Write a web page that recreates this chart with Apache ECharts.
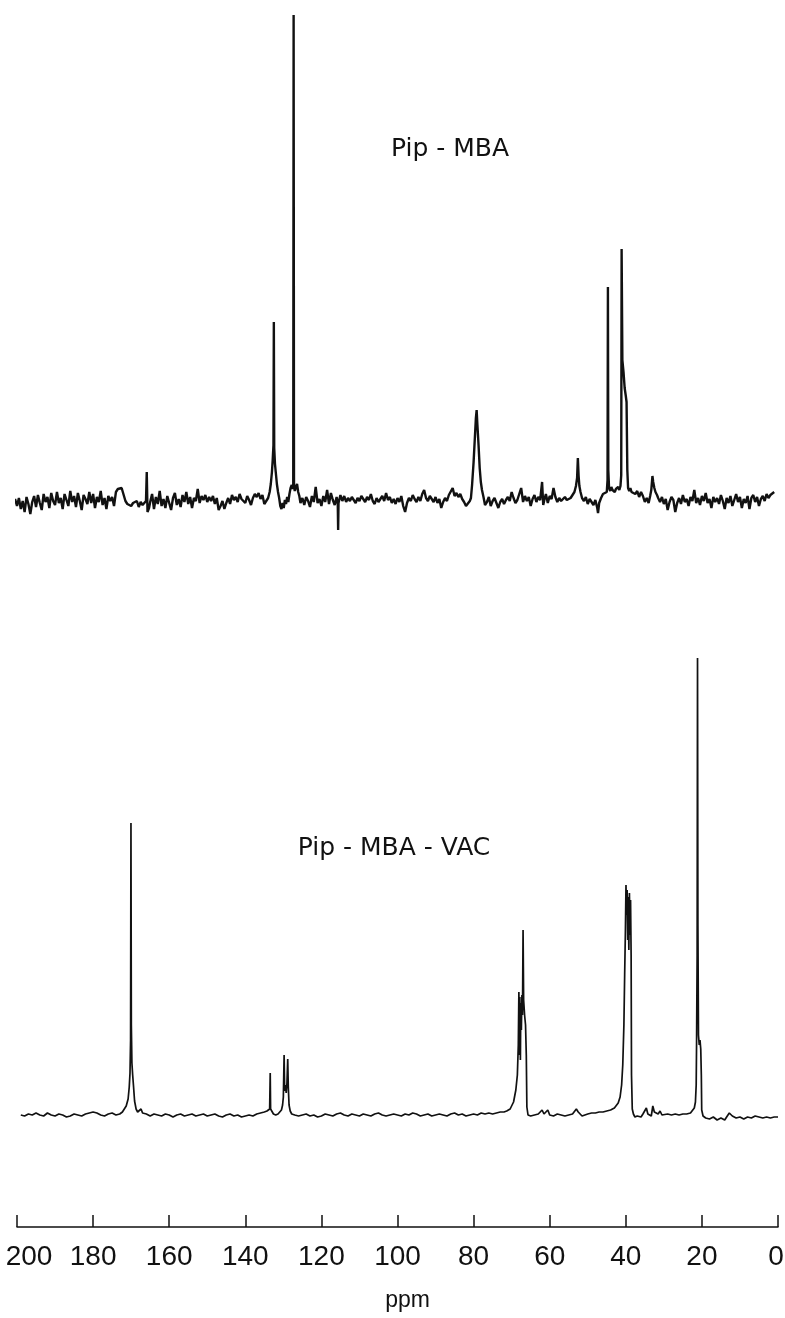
<!DOCTYPE html>
<html>
<head>
<meta charset="utf-8">
<script src="https://cdn.jsdelivr.net/npm/echarts@6/dist/echarts.min.js"></script>
<style>
html,body{margin:0;padding:0;background:#fff;}
#chart{width:785px;height:1318px;}
</style>
</head>
<body>
<div id="chart"></div>
<script>
// ---- Data (chemical shift in ppm, intensity in arbitrary units) ----
const axisTicks = [0, 20, 40, 60, 80, 100, 120, 140, 160, 180, 200];
const axisName = 'ppm';
const labelTop = 'Pip - MBA';
const labelBottom = 'Pip - MBA - VAC';

const topSpectrum = [
[201.0,-5],[200.5,1],
[200.0,-6],[199.5,2],[199.0,-9],[198.5,-1],[198.0,-12],[197.5,3],[197.0,-4],[196.5,-14],[196.0,-2],[195.5,4],
[195.0,-7],[194.5,5],[194.0,-3],[193.5,-10],[193.0,6],[192.5,-2],[192.0,3],[191.5,-8],[191.0,7],[190.5,-1],
[190.0,-5],[189.5,8],[189.0,-3],[188.5,2],[188.0,-9],[187.5,6],[187.0,0],[186.5,-6],[186.0,9],[185.5,-2],
[185.0,4],[184.5,-7],[184.0,7],[183.5,-1],[183.0,-10],[182.5,5],[182.0,1],[181.5,-4],[181.0,8],[180.5,-3],
[180.0,6],[179.5,-8],[179.0,3],[178.5,-2],[178.0,9],[177.5,-5],[177.0,2],[176.5,-9],[176.0,4],[175.5,-1],
[175.0,3],[174.5,-6],[174.0,8],[173.5,11],[173.0,9],[172.5,12],[172.0,10],[171.5,-1],[171.0,-4],[170.5,-2],
[170.0,-6],[169.5,-3],[169.0,-5],[168.5,-1],[168.0,-7],[167.5,-2],[167.0,-5],[166.5,-3],[166.1,-1],[165.9,28],
[165.7,-12],[165.3,-8],[165.0,-2],[164.5,6],[164.0,-9],[163.5,3],[163.0,-4],[162.5,9],[162.0,-6],[161.5,1],
[161.0,-8],[160.5,4],[160.0,-3],[159.5,-10],[159.0,2],[158.5,7],[158.0,-5],[157.5,1],[157.0,-7],[156.5,5],
[156.0,-2],[155.5,8],[155.0,-4],[154.5,3],[154.0,-8],[153.5,2],[153.0,-1],[152.5,11],[152.0,-3],[151.5,4],
[151.0,0],[150.5,5],[150.0,-2],[149.5,3],[149.0,-1],[148.5,4],[148.0,-4],[147.5,2],[147.0,-10],[146.5,-6],
[146.0,-1],[145.5,-9],[145.0,-3],[144.5,2],[144.0,-4],[143.5,5],[143.0,0],[142.5,3],[142.0,-2],[141.5,6],
[141.0,1],[140.5,3],[140.0,-3],[139.5,4],[139.0,0],[138.5,-5],[138.0,2],[137.5,6],[137.0,3],[136.5,7],
[136.0,1],[135.5,5],[135.0,-4],[134.5,-1],[134.0,2],[133.6,8],[133.3,16],[133.0,28],[132.8,40],[132.6,55],
[132.5,178],[132.4,52],[132.2,36],[132.0,28],[131.7,16],[131.4,8],[131.1,2],[130.8,-6],[130.5,-9],[130.2,-3],
[129.9,-8],[129.6,0],[129.3,-4],[129.0,3],[128.7,-2],[128.4,6],[128.1,12],[127.8,15],[127.6,11],[127.4,14],
[127.3,485],[127.2,15],[127.0,9],[126.7,13],[126.4,16],[126.1,8],[125.8,4],[125.5,-3],[125.0,2],[124.5,-5],
[124.0,3],[123.5,-1],[123.0,-7],[122.5,4],[122.0,-2],[121.5,13],[121.0,-3],[120.5,1],[120.0,-6],[119.5,4],
[119.0,-2],[118.5,10],[118.0,-4],[117.5,7],[117.0,0],[116.5,-5],[116.0,3],[115.7,-4],[115.6,-30],[115.5,-3],
[115.0,5],[114.5,-1],[114.0,4],[113.5,-2],[113.0,2],[112.5,-1],[112.0,3],[111.5,0],[111.0,-3],[110.5,2],
[110.0,-1],[109.5,4],[109.0,1],[108.5,-2],[108.0,3],[107.5,0],[107.0,6],[106.5,-1],[106.0,-4],[105.5,2],
[105.0,-2],[104.5,1],[104.0,4],[103.5,-1],[103.0,7],[102.5,0],[102.0,3],[101.5,-3],[101.0,1],[100.5,-4],
[100.0,2],[99.5,-2],[99.0,4],[98.5,-6],[98.0,-12],[97.5,-3],[97.0,2],[96.5,-1],[96.0,5],[95.5,1],
[95.0,-2],[94.5,3],[94.0,-1],[93.5,6],[93.0,10],[92.5,2],[92.0,-1],[91.5,4],[91.0,1],[90.5,-2],
[90.0,3],[89.5,-3],[89.0,1],[88.5,-8],[88.0,-2],[87.5,2],[87.0,-1],[86.5,5],[86.0,3],[85.5,12],
[85.0,4],[84.5,7],[84.0,3],[83.5,6],[83.0,1],[82.5,-2],[82.0,-6],[81.5,-4],[81.0,-1],[80.7,2],
[80.4,15],[80.0,38],[79.7,60],[79.4,82],[79.2,90],[79.0,75],[78.7,55],[78.4,32],[78.1,18],[77.8,10],
[77.4,3],[77.0,-5],[76.5,-2],[76.0,3],[75.5,-6],[75.0,-1],[74.5,2],[74.0,-3],[73.5,-8],[73.0,-2],
[72.5,1],[72.0,-4],[71.5,0],[71.0,3],[70.5,-1],[70.0,8],[69.5,2],[69.0,-3],[68.5,0],[68.0,2],
[67.5,12],[67.0,-2],[66.5,4],[66.0,-1],[65.5,3],[65.0,-6],[64.5,1],[64.0,5],[63.5,-2],[63.0,3],
[62.5,0],[62.0,18],[61.7,-5],[61.3,2],[61.0,6],[60.5,-3],[60.0,4],[59.5,1],[59.0,12],[58.5,3],
[58.0,-2],[57.5,2],[57.0,-1],[56.5,-3],[56.0,3],[55.5,0],[55.0,-2],[54.5,2],[54.0,4],[53.5,8],
[53.1,14],[52.8,22],[52.6,42],[52.4,24],[52.2,14],[51.9,8],[51.5,2],[51.0,-1],[50.5,3],[50.0,-4],
[49.5,1],[49.0,-2],[48.5,-5],[48.0,0],[47.5,-8],[47.3,-13],[47.0,-3],[46.5,2],[46.0,6],[45.5,4],
[45.0,8],[44.8,20],[44.7,213],[44.6,30],[44.4,12],[44.1,9],[43.8,13],[43.5,10],[43.2,12],[42.9,8],
[42.6,11],[42.3,9],[42.0,13],[41.7,10],[41.4,14],[41.2,25],[41.1,251],[40.9,140],[40.6,128],[40.3,112],
[40.0,104],[39.8,98],[39.6,30],[39.4,12],[39.1,9],[38.8,12],[38.5,8],[38.0,10],[37.5,6],[37.0,9],
[36.5,3],[36.0,8],[35.5,4],[35.0,-2],[34.5,2],[34.0,-3],[33.6,4],[33.3,10],[33.0,24],[32.8,18],
[32.5,12],[32.2,8],[31.8,5],[31.5,2],[31.0,-2],[30.5,3],[30.0,-4],[29.5,1],[29.0,-10],[28.5,-2],
[28.0,3],[27.5,0],[27.0,-12],[26.5,-3],[26.0,2],[25.5,-4],[25.0,5],[24.5,-2],[24.0,1],[23.5,-6],
[23.0,3],[22.5,-1],[22.0,10],[21.5,-3],[21.0,2],[20.5,-5],[20.0,4],[19.5,-1],[19.0,7],[18.5,-3],
[18.0,1],[17.5,-8],[17.0,3],[16.5,-2],[16.0,2],[15.5,-4],[15.0,5],[14.5,-1],[14.0,-9],[13.5,2],
[13.0,-3],[12.5,4],[12.0,-6],[11.5,0],[11.0,6],[10.5,-2],[10.0,3],[9.5,-8],[9.0,1],[8.5,-3],
[8.0,4],[7.5,-9],[7.0,2],[6.5,5],[6.0,-2],[5.5,3],[5.0,-6],[4.5,1],[4.0,4],[3.5,-1],
[3.0,6],[2.5,2],[2.0,5],[1.5,3],[1.0,8]
];

const bottomSpectrum = [
[199,0],[198,-1],[197,1],[196,0],[195,2],[194,0],[193,-1],[192,2],[191,0],[190,-1],
[189,1],[188,0],[187,-2],[186,-1],[185,1],[184,0],[183,-1],[182,1],[181,2],[180,3],
[179.5,4],[179,2],[178,0],[177,-1],[176,1],[175,2],[174,0],[173,1],[172.3,3],[171.8,5],
[171.3,9],[170.8,16],[170.5,28],[170.3,42],[170.15,75],[170.05,292],[169.95,90],[169.8,52],[169.6,40],[169.4,30],
[169.1,14],[168.7,6],[168.3,3],[167.8,4],[167.4,6],[167.0,2],[166.5,0],[166,1],[165,-1],[164,1],
[163,0],[162,-1],[161,1],[160,0],[159,-2],[158,0],[157,1],[156,-1],[155,0],[154,1],
[153,-1],[152,0],[151,1],[150,-1],[149,0],[148,1],[147,-1],[146,-2],[145,0],[144,1],
[143,-1],[142,0],[141,-2],[140,-1],[139,0],[138,-1],[137,1],[136,2],[135,3],[134.3,4],
[133.9,5],[133.6,6],[133.45,42],[133.35,6],[133.1,4],[132.6,1],[132,0],[131.4,1],[130.9,2],[130.5,5],
[130.2,10],[130.0,18],[129.8,60],[129.65,24],[129.45,30],[129.25,22],[129.05,32],[128.85,56],[128.7,28],[128.5,10],
[128.2,4],[127.8,1],[127,0],[126,-1],[125,0],[124,1],[123,-1],[122,0],[121,-2],[120,-1],
[119,1],[118,0],[117,-1],[116,1],[115,2],[114,0],[113,-1],[112,1],[111,0],[110,-1],
[109,1],[108,0],[107,-1],[106,1],[105,2],[104,0],[103,-1],[102,0],[101,1],[100,0],
[99,-1],[98,1],[97,0],[96,2],[95,1],[94,-1],[93,0],[92,1],[91,-1],[90,0],
[89,1],[88,0],[87,-1],[86,1],[85,2],[84,0],[83,1],[82,-1],[81,0],[80,1],
[79,0],[78,2],[77,1],[76,2],[75,1],[74,2],[73,3],[72,3],[71.3,4],[70.4,6],
[69.5,13],[68.9,25],[68.5,40],[68.25,70],[68.1,123],[67.95,60],[67.85,118],[67.7,55],[67.6,112],[67.45,85],
[67.3,120],[67.15,100],[67.0,185],[66.85,115],[66.6,100],[66.35,90],[66.15,60],[66.0,8],[65.7,0],[65.3,-2],
[65,-1],[64,0],[63,1],[62.5,2],[62,5],[61.5,1],[61,3],[60.5,5],[60,0],[59,-1],
[58,1],[57,0],[56.5,2],[56,-1],[55.5,1],[55,0],[54,1],[53.5,2],[53,6],[52.5,3],
[52,5],[51.5,-1],[51,0],[50,1],[49,2],[48,2],[47,3],[46,3],[45,4],[44,5],
[43.5,6],[43,7],[42.5,9],[42,12],[41.5,18],[41.1,30],[40.8,50],[40.5,90],[40.3,140],[40.1,185],
[39.95,230],[39.8,200],[39.65,225],[39.5,175],[39.35,218],[39.2,165],[39.05,222],[38.9,180],[38.75,215],[38.6,160],
[38.5,40],[38.3,6],[38.0,1],[37.6,-2],[37,-1],[36.5,0],[36,-2],[35.5,1],[35,3],[34.6,7],
[34.2,1],[33.8,2],[33.3,-1],[32.9,9],[32.5,3],[32,5],[31.5,1],[31,4],[30.5,0],[30,-1],
[29,1],[28,0],[27,1],[26,0],[25,1],[24,1],[23,2],[22.5,3],[22.0,7],[21.7,13],
[21.5,30],[21.4,72],[21.25,160],[21.15,457],[21.05,190],[20.9,80],[20.7,70],[20.5,75],[20.3,66],[20.15,40],
[20.05,5],[19.7,-1],[19,-3],[18,-4],[17,-2],[16,-5],[15,-3],[14,-5],[13.5,-2],[12.8,2],
[12.4,3],[12,-1],[11,-3],[10,-2],[9,-4],[8,-2],[7,-3],[6,-1],[5,-2],[4,-3],
[3,-2],[2,-3],[1,-2],[0,-2]
];

// ---- Chart ----
const chart = echarts.init(document.getElementById('chart'), null, {renderer: 'canvas'});
const hiddenX = (gi) => ({type: 'value', gridIndex: gi, min: 0, max: 200, inverse: true, show: false});
const labelFont = {color: '#111', fontSize: 28, fontFamily: 'Liberation Sans'};
const option = {
  backgroundColor: '#ffffff',
  animation: false,
  grid: [
    {left: 17, right: 7, top: 15, height: 515, outerBoundsMode: 'none', containLabel: false},
    {left: 17, right: 7, top: 658, height: 487, outerBoundsMode: 'none', containLabel: false},
    {left: 17, right: 7, top: 1200, bottom: 91, outerBoundsMode: 'none', containLabel: false}
  ],
  xAxis: [
    hiddenX(0),
    hiddenX(1),
    {
      type: 'value', gridIndex: 2, min: 0, max: 200, interval: 20, inverse: true,
      axisLine: {show: true, lineStyle: {color: '#111', width: 1.5}},
      axisTick: {show: true, inside: true, length: 12, lineStyle: {color: '#111', width: 1.5}},
      splitLine: {show: false},
      axisLabel: Object.assign({}, labelFont, {
        margin: 16,
        hideOverlap: false,
        formatter: (v) => {
          if (!axisTicks.includes(v)) return '';
          if (v === axisTicks[axisTicks.length - 1]) return '{first|' + v + '}';
          if (v === axisTicks[0]) return '{last|' + v + '}';
          return String(v);
        },
        rich: {
          first: Object.assign({}, labelFont, {padding: [0, 0, 0, 24]}),
          last: Object.assign({}, labelFont, {padding: [0, 4, 0, 0]})
        }
      }),
      name: axisName, nameLocation: 'middle', nameGap: 62,
      nameTextStyle: {color: '#111', fontSize: 23, fontFamily: 'Liberation Sans', padding: [0, 0, 0, 20]}
    }
  ],
  yAxis: [
    {type: 'value', gridIndex: 0, min: -30, max: 485, show: false},
    {type: 'value', gridIndex: 1, min: -30, max: 457, show: false},
    {type: 'value', gridIndex: 2, min: 0, max: 1, show: false}
  ],
  graphic: [
    {type: 'text', x: 450, y: 149, style: {text: labelTop, fill: '#111', font: '25px "DejaVu Sans"', textAlign: 'center', textVerticalAlign: 'middle'}},
    {type: 'text', x: 394, y: 848, style: {text: labelBottom, fill: '#111', font: '25px "DejaVu Sans"', textAlign: 'center', textVerticalAlign: 'middle'}}
  ],
  series: [
    {type: 'line', xAxisIndex: 0, yAxisIndex: 0, data: topSpectrum, showSymbol: false, clip: false,
     lineStyle: {color: '#111', width: 2.4}},
    {type: 'line', xAxisIndex: 1, yAxisIndex: 1, data: bottomSpectrum, showSymbol: false, clip: false,
     lineStyle: {color: '#111', width: 1.7}}
  ]
};
chart.setOption(option);
</script>
</body>
</html>
